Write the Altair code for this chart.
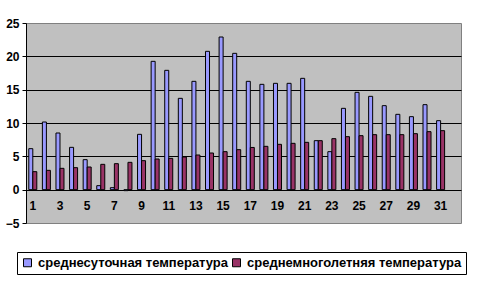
import altair as alt
import pandas as pd

days = list(range(1, 32))
daily = [6.15, 10.15, 8.5, 6.35, 4.5, 0.6, 0.3, -0.15, 8.3, 19.25,
         17.9, 13.7, 16.25, 20.75, 22.9, 20.45, 16.25, 15.8, 15.95, 15.95,
         16.7, 7.35, 5.7, 12.2, 14.6, 14.0, 12.6, 11.3, 10.95, 12.75, 10.35]
longterm = [2.7, 2.9, 3.2, 3.3, 3.4, 3.8, 3.9, 4.1, 4.35, 4.6,
            4.7, 4.9, 5.2, 5.5, 5.7, 6.0, 6.33, 6.5, 6.8, 6.95,
            7.1, 7.35, 7.65, 7.95, 8.1, 8.25, 8.25, 8.25, 8.4, 8.7, 8.85]
series_names = ["среднесуточная температура", "среднемноголетняя температура"]
series_colors = ["#9999FF", "#993366"]
y_ticks = [-5, 0, 5, 10, 15, 20, 25]
x_labels = list(range(1, 32, 2))

rows = []
for d, a, b in zip(days, daily, longterm):
    rows.append({"day": d, "series": series_names[0], "value": a})
    rows.append({"day": d, "series": series_names[1], "value": b})
df = pd.DataFrame(rows)

FONT = "Liberation Sans"

chart = alt.Chart(df).mark_bar(stroke="black", strokeWidth=1).encode(
    x=alt.X("day:O",
            scale=alt.Scale(domain=days + [32], paddingInner=0.41, paddingOuter=0.205),
            axis=alt.Axis(title=None, values=x_labels, labelAngle=0, ticks=False,
                          domainColor="black", domainWidth=1, offset=-33,
                          labelPadding=10, labelFont=FONT, labelFontSize=12,
                          labelFontWeight="bold", labelColor="black", zindex=0)),
    xOffset=alt.XOffset("series:N", sort=series_names),
    y=alt.Y("value:Q",
            scale=alt.Scale(domain=[-5, 25], nice=False, zero=False),
            axis=alt.Axis(title=None, values=y_ticks, grid=True, gridColor="black",
                          gridOpacity={"condition": {"test": "datum.value === 25 || datum.value === -5 || datum.value === 0", "value": 0}, "value": 1},
                          domainColor="black", tickColor="black", tickSize=4,
                          labelPadding=3, labelFont=FONT, labelFontSize=12,
                          labelFontWeight="bold", labelColor="black")),
    fill=alt.Fill("series:N",
                  scale=alt.Scale(domain=series_names, range=series_colors),
                  legend=alt.Legend(title=None, orient="none", legendX=-9, legendY=229,
                                    direction="horizontal", strokeColor="black",
                                    fillColor="white", padding=4,
                                    symbolType="square", symbolSize=64,
                                    symbolStrokeColor="black", symbolStrokeWidth=1,
                                    labelFont=FONT, labelFontSize=13,
                                    labelFontWeight="bold", labelColor="black",
                                    labelLimit=400, columnPadding=1, labelOffset=4)),
).properties(
    width=435, height=200,
    autosize=alt.AutoSizeParams(type="none"),
    padding={"left": 26, "top": 23, "right": 19, "bottom": 70},
    background="white",
).configure_view(
    fill="#C0C0C0", stroke="#808080", strokeWidth=1
)

chart.save("out.html", embed_options={"renderer": "svg", "actions": False})
